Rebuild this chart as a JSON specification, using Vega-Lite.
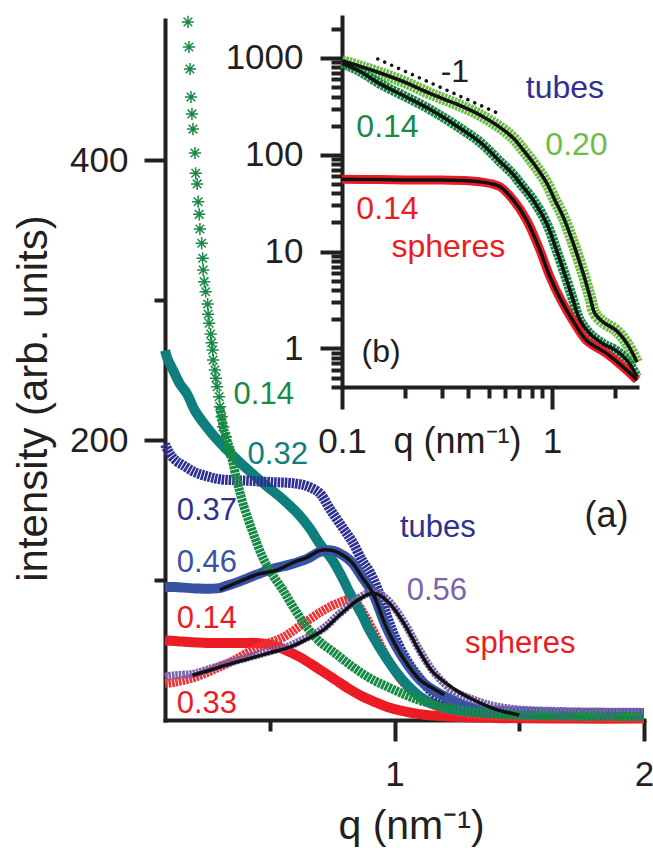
{
  "$schema": "https://vega.github.io/schema/vega-lite/v6.json",
  "description": "Scattering intensity versus q for tube and sphere dispersions: (a) linear axes, (b) log-log inset with fits.",
  "width": 479,
  "height": 700,
  "autosize": "none",
  "padding": {"left": 165, "top": 20, "right": 9, "bottom": 128},
  "background": "white",
  "config": {
    "view": {"stroke": null},
    "font": "Liberation Sans",
    "axis": {
      "grid": false,
      "domainWidth": 4,
      "domainCap": "square",
      "tickWidth": 4,
      "domainColor": "#231f20",
      "tickColor": "#231f20",
      "labelColor": "#231f20",
      "titleColor": "#231f20",
      "labelFont": "Liberation Sans",
      "titleFont": "Liberation Sans",
      "titleFontWeight": "normal",
      "labelOverlap": false,
      "labelFlush": false
    },
    "line": {"interpolate": "catmull-rom"},
    "text": {"font": "Liberation Sans"}
  },
  "datasets": {
    "tubes014Stars": [
      {"q": 0.172, "I": 498.6}, {"q": 0.176, "I": 480.7}, {"q": 0.180, "I": 465.0}, {"q": 0.184, "I": 445.0},
      {"q": 0.188, "I": 432.9}, {"q": 0.192, "I": 422.1}, {"q": 0.200, "I": 405.0}, {"q": 0.203, "I": 390.5},
      {"q": 0.209, "I": 382.9}, {"q": 0.213, "I": 370.2}, {"q": 0.217, "I": 361.2}, {"q": 0.220, "I": 350.7},
      {"q": 0.227, "I": 340.5}, {"q": 0.231, "I": 329.8}, {"q": 0.233, "I": 321.4}, {"q": 0.237, "I": 313.1},
      {"q": 0.243, "I": 305.9}, {"q": 0.251, "I": 297.1}, {"q": 0.253, "I": 289.8}, {"q": 0.257, "I": 283.4},
      {"q": 0.263, "I": 275.7}, {"q": 0.267, "I": 269.5}, {"q": 0.271, "I": 264.3}, {"q": 0.273, "I": 257.1},
      {"q": 0.280, "I": 250.0}, {"q": 0.284, "I": 244.1}, {"q": 0.289, "I": 238.1}, {"q": 0.297, "I": 230.9},
      {"q": 0.300, "I": 223.8}, {"q": 0.307, "I": 216.6}, {"q": 0.313, "I": 209.5}, {"q": 0.324, "I": 202.4},
      {"q": 0.333, "I": 195.2}, {"q": 0.343, "I": 190.5}
    ],
    "tubes014": [
      {"q": 0.300, "I": 223.8}, {"q": 0.313, "I": 209.5}, {"q": 0.324, "I": 202.4}, {"q": 0.343, "I": 190.5},
      {"q": 0.37, "I": 170}, {"q": 0.392, "I": 155}, {"q": 0.43, "I": 135}, {"q": 0.472, "I": 116},
      {"q": 0.51, "I": 104}, {"q": 0.552, "I": 93}, {"q": 0.60, "I": 79}, {"q": 0.65, "I": 66},
      {"q": 0.70, "I": 56}, {"q": 0.752, "I": 49}, {"q": 0.832, "I": 38}, {"q": 0.90, "I": 30},
      {"q": 0.968, "I": 24}, {"q": 1.03, "I": 19}, {"q": 1.10, "I": 14}, {"q": 1.17, "I": 10.5},
      {"q": 1.232, "I": 8}, {"q": 1.30, "I": 6.5}, {"q": 1.37, "I": 5}, {"q": 1.5, "I": 3.5},
      {"q": 1.7, "I": 2.8}, {"q": 2.0, "I": 2.5}
    ],
    "tubes032": [
      {"q": 0.08, "I": 264}, {"q": 0.09, "I": 258}, {"q": 0.112, "I": 250}, {"q": 0.14, "I": 240},
      {"q": 0.168, "I": 233}, {"q": 0.2, "I": 221}, {"q": 0.248, "I": 209}, {"q": 0.29, "I": 200},
      {"q": 0.328, "I": 193}, {"q": 0.38, "I": 184}, {"q": 0.43, "I": 176}, {"q": 0.488, "I": 167},
      {"q": 0.55, "I": 158}, {"q": 0.62, "I": 146}, {"q": 0.66, "I": 137}, {"q": 0.70, "I": 126},
      {"q": 0.752, "I": 114}, {"q": 0.79, "I": 102}, {"q": 0.82, "I": 91}, {"q": 0.87, "I": 75},
      {"q": 0.90, "I": 64}, {"q": 0.968, "I": 44}, {"q": 1.03, "I": 29}, {"q": 1.10, "I": 17},
      {"q": 1.15, "I": 12}, {"q": 1.21, "I": 8.5}, {"q": 1.3, "I": 6}, {"q": 1.45, "I": 4.5},
      {"q": 1.7, "I": 4}, {"q": 2.0, "I": 3.8}
    ],
    "tubes037": [
      {"q": 0.08, "I": 197}, {"q": 0.10, "I": 190}, {"q": 0.125, "I": 185}, {"q": 0.152, "I": 182},
      {"q": 0.2, "I": 177}, {"q": 0.25, "I": 174}, {"q": 0.3, "I": 172}, {"q": 0.4, "I": 171},
      {"q": 0.5, "I": 170}, {"q": 0.6, "I": 169}, {"q": 0.65, "I": 167}, {"q": 0.70, "I": 162},
      {"q": 0.74, "I": 151}, {"q": 0.79, "I": 138}, {"q": 0.832, "I": 127}, {"q": 0.87, "I": 114},
      {"q": 0.90, "I": 106}, {"q": 0.94, "I": 90}, {"q": 0.97, "I": 74}, {"q": 1.0, "I": 60},
      {"q": 1.048, "I": 43}, {"q": 1.10, "I": 30}, {"q": 1.15, "I": 20}, {"q": 1.2, "I": 14},
      {"q": 1.26, "I": 10}, {"q": 1.33, "I": 7}, {"q": 1.45, "I": 5.5}, {"q": 1.7, "I": 5},
      {"q": 2.0, "I": 5}
    ],
    "tubes046": [
      {"q": 0.08, "I": 95}, {"q": 0.12, "I": 95}, {"q": 0.2, "I": 94}, {"q": 0.288, "I": 94},
      {"q": 0.33, "I": 96}, {"q": 0.38, "I": 99}, {"q": 0.45, "I": 104}, {"q": 0.512, "I": 108},
      {"q": 0.58, "I": 111}, {"q": 0.648, "I": 115}, {"q": 0.70, "I": 120}, {"q": 0.752, "I": 121},
      {"q": 0.80, "I": 117}, {"q": 0.832, "I": 112}, {"q": 0.87, "I": 102}, {"q": 0.912, "I": 91},
      {"q": 0.968, "I": 66}, {"q": 1.032, "I": 45}, {"q": 1.10, "I": 29}, {"q": 1.15, "I": 22},
      {"q": 1.2, "I": 17}, {"q": 1.27, "I": 11}, {"q": 1.35, "I": 7.5}, {"q": 1.5, "I": 6},
      {"q": 1.7, "I": 5}, {"q": 2.0, "I": 5}
    ],
    "tubes046Fit": [
      {"q": 0.30, "I": 93}, {"q": 0.38, "I": 99}, {"q": 0.45, "I": 104}, {"q": 0.528, "I": 107},
      {"q": 0.60, "I": 113}, {"q": 0.648, "I": 116}, {"q": 0.70, "I": 121}, {"q": 0.752, "I": 121},
      {"q": 0.80, "I": 117}, {"q": 0.832, "I": 112}, {"q": 0.87, "I": 102}, {"q": 0.912, "I": 91},
      {"q": 0.968, "I": 66}, {"q": 1.032, "I": 45}, {"q": 1.10, "I": 29}, {"q": 1.15, "I": 23},
      {"q": 1.20, "I": 18}
    ],
    "spheres014": [
      {"q": 0.08, "I": 57}, {"q": 0.15, "I": 56}, {"q": 0.25, "I": 55}, {"q": 0.38, "I": 55},
      {"q": 0.45, "I": 55}, {"q": 0.512, "I": 53.5}, {"q": 0.55, "I": 51}, {"q": 0.62, "I": 45},
      {"q": 0.70, "I": 36}, {"q": 0.76, "I": 29}, {"q": 0.82, "I": 22}, {"q": 0.87, "I": 17},
      {"q": 0.92, "I": 13}, {"q": 0.968, "I": 9.5}, {"q": 1.03, "I": 6.5}, {"q": 1.1, "I": 4.2},
      {"q": 1.2, "I": 2.6}, {"q": 1.4, "I": 1.5}, {"q": 1.7, "I": 1}, {"q": 2.0, "I": 1}
    ],
    "spheres033": [
      {"q": 0.08, "I": 26}, {"q": 0.12, "I": 27}, {"q": 0.19, "I": 30}, {"q": 0.25, "I": 34},
      {"q": 0.30, "I": 38}, {"q": 0.36, "I": 43}, {"q": 0.42, "I": 49}, {"q": 0.48, "I": 54},
      {"q": 0.552, "I": 59}, {"q": 0.62, "I": 67}, {"q": 0.712, "I": 78}, {"q": 0.78, "I": 84},
      {"q": 0.82, "I": 86}, {"q": 0.85, "I": 83}, {"q": 0.88, "I": 75}, {"q": 0.92, "I": 62},
      {"q": 0.968, "I": 45}, {"q": 1.03, "I": 28}, {"q": 1.10, "I": 16}, {"q": 1.18, "I": 9},
      {"q": 1.28, "I": 5}, {"q": 1.4, "I": 3}, {"q": 1.7, "I": 2}, {"q": 2.0, "I": 1.5}
    ],
    "spheres056": [
      {"q": 0.08, "I": 31}, {"q": 0.12, "I": 32}, {"q": 0.192, "I": 33}, {"q": 0.25, "I": 36},
      {"q": 0.32, "I": 40}, {"q": 0.42, "I": 45}, {"q": 0.50, "I": 49}, {"q": 0.58, "I": 53},
      {"q": 0.64, "I": 58}, {"q": 0.712, "I": 65}, {"q": 0.78, "I": 76}, {"q": 0.848, "I": 86},
      {"q": 0.90, "I": 91}, {"q": 0.93, "I": 91}, {"q": 0.97, "I": 86}, {"q": 1.0, "I": 80},
      {"q": 1.048, "I": 67}, {"q": 1.10, "I": 50}, {"q": 1.15, "I": 36}, {"q": 1.20, "I": 26},
      {"q": 1.232, "I": 21}, {"q": 1.28, "I": 17}, {"q": 1.34, "I": 13}, {"q": 1.4, "I": 10},
      {"q": 1.5, "I": 7.5}, {"q": 1.7, "I": 6.3}, {"q": 2.0, "I": 5.8}
    ],
    "spheres056Fit": [
      {"q": 0.19, "I": 32}, {"q": 0.25, "I": 35}, {"q": 0.32, "I": 39}, {"q": 0.42, "I": 44},
      {"q": 0.50, "I": 48}, {"q": 0.58, "I": 52}, {"q": 0.64, "I": 57}, {"q": 0.712, "I": 64},
      {"q": 0.78, "I": 75}, {"q": 0.848, "I": 85}, {"q": 0.90, "I": 90}, {"q": 0.93, "I": 90},
      {"q": 0.97, "I": 85}, {"q": 1.0, "I": 79}, {"q": 1.048, "I": 66}, {"q": 1.10, "I": 49},
      {"q": 1.15, "I": 35}, {"q": 1.18, "I": 30}, {"q": 1.24, "I": 22}, {"q": 1.31, "I": 15},
      {"q": 1.40, "I": 8}, {"q": 1.5, "I": 3.6}
    ],
    "logTubes020": [
      {"q": 0.1, "I": 930}, {"q": 0.12, "I": 830}, {"q": 0.152, "I": 700}, {"q": 0.2, "I": 560},
      {"q": 0.262, "I": 430}, {"q": 0.35, "I": 335}, {"q": 0.454, "I": 258}, {"q": 0.55, "I": 200},
      {"q": 0.652, "I": 150}, {"q": 0.73, "I": 112}, {"q": 0.83, "I": 78}, {"q": 0.944, "I": 51},
      {"q": 1.04, "I": 33}, {"q": 1.13, "I": 23}, {"q": 1.264, "I": 12.1}, {"q": 1.41, "I": 5.9},
      {"q": 1.517, "I": 3.4}, {"q": 1.60, "I": 2.3}, {"q": 1.75, "I": 1.87}, {"q": 2.02, "I": 1.54},
      {"q": 2.28, "I": 1.12}, {"q": 2.54, "I": 0.72}
    ],
    "logTubes014": [
      {"q": 0.1, "I": 880}, {"q": 0.12, "I": 740}, {"q": 0.152, "I": 540}, {"q": 0.2, "I": 400},
      {"q": 0.262, "I": 295}, {"q": 0.35, "I": 200}, {"q": 0.454, "I": 135}, {"q": 0.566, "I": 85},
      {"q": 0.652, "I": 63}, {"q": 0.704, "I": 51}, {"q": 0.815, "I": 34}, {"q": 0.944, "I": 19.5},
      {"q": 1.052, "I": 10.3}, {"q": 1.175, "I": 5.1}, {"q": 1.264, "I": 3.1}, {"q": 1.36, "I": 1.95},
      {"q": 1.517, "I": 1.42}, {"q": 1.75, "I": 1.12}, {"q": 2.02, "I": 0.95}, {"q": 2.28, "I": 0.75},
      {"q": 2.54, "I": 0.51}
    ],
    "logSpheres014": [
      {"q": 0.1, "I": 56}, {"q": 0.15, "I": 55.5}, {"q": 0.2, "I": 55}, {"q": 0.3, "I": 55},
      {"q": 0.4, "I": 54}, {"q": 0.454, "I": 52.6}, {"q": 0.52, "I": 50}, {"q": 0.566, "I": 46.7},
      {"q": 0.655, "I": 34}, {"q": 0.758, "I": 21.1}, {"q": 0.877, "I": 10.3}, {"q": 0.978, "I": 5.5},
      {"q": 1.106, "I": 3.14}, {"q": 1.284, "I": 1.8}, {"q": 1.46, "I": 1.21}, {"q": 1.83, "I": 0.88},
      {"q": 2.28, "I": 0.59}, {"q": 2.54, "I": 0.47}
    ],
    "slopeGuide": [
      {"q": 0.148, "I": 977}, {"q": 0.578, "I": 257}
    ],
    "labelsA": [
      {"q": 0.476, "I": 226, "text": "0.14", "series": "tubes 0.14"},
      {"q": 0.532, "I": 183, "text": "0.32", "series": "tubes 0.32"},
      {"q": 0.248, "I": 143, "text": "0.37", "series": "tubes 0.37"},
      {"q": 0.248, "I": 106, "text": "0.46", "series": "tubes 0.46"},
      {"q": 0.248, "I": 65.5, "text": "0.14", "series": "spheres 0.14"},
      {"q": 0.248, "I": 4.8, "text": "0.33", "series": "spheres 0.33"},
      {"q": 1.174, "I": 131, "text": "tubes", "series": "tubes"},
      {"q": 1.17, "I": 85.7, "text": "0.56", "series": "spheres 0.56"},
      {"q": 1.504, "I": 48, "text": "spheres", "series": "spheres"}
    ],
    "labelsB": [
      {"q": 0.1647, "I": 151, "text": "0.14", "series": "tubes 0.14"},
      {"q": 1.308, "I": 99.3, "text": "0.20", "series": "tubes 0.20"},
      {"q": 1.153, "I": 383, "text": "tubes", "series": "tubes"},
      {"q": 0.1647, "I": 21.6, "text": "0.14", "series": "spheres 0.14"},
      {"q": 0.321, "I": 8.81, "text": "spheres", "series": "spheres"}
    ]
  },
  "layer": [
    {
      "encoding": {
        "x": {
          "field": "q", "type": "quantitative",
          "scale": {"domain": [0.08, 2], "nice": false, "zero": false},
          "axis": {
            "orient": "bottom",
            "values": [0.5, 1, 1.5, 2],
            "labelExpr": "datum.value === 1 ? '1' : datum.value === 2 ? '2' : ''",
            "tickSize": {"condition": {"test": "datum.value === 1 || datum.value === 2", "value": 21}, "value": 11},
            "labelPadding": 44,
            "labelBaseline": "alphabetic",
            "labelFontSize": 35,
            "title": "q (nm⁻¹)",
            "titleFontSize": 41,
            "titleX": 246,
            "titleY": 118,
            "titleAlign": "center",
            "titleBaseline": "alphabetic"
          }
        },
        "y": {
          "field": "I", "type": "quantitative",
          "scale": {"domain": [0, 500], "nice": false},
          "axis": {
            "orient": "left",
            "values": [100, 200, 300, 400],
            "labelExpr": "datum.value === 200 || datum.value === 400 ? datum.label : ''",
            "tickSize": {"condition": {"test": "datum.value === 200 || datum.value === 400", "value": 21}, "value": 11},
            "labelPadding": 16,
            "labelFontSize": 35,
            "title": "intensity (arb. units)",
            "titleFontSize": 42,
            "titleAngle": 270,
            "titleX": -132,
            "titleY": 378,
            "titleAlign": "center",
            "titleBaseline": "middle"
          }
        }
      },
      "layer": [
        {"data": {"name": "spheres014"}, "mark": {"type": "line", "color": "#ec1c24", "strokeWidth": 10}},
        {"data": {"name": "spheres033"}, "mark": {"type": "line", "color": "#ee3236", "strokeWidth": 9, "strokeDash": [2.6, 0.9]}},
        {"data": {"name": "tubes032"}, "mark": {"type": "line", "color": "#0f7f7e", "strokeWidth": 10}},
        {"data": {"name": "tubes037"}, "mark": {"type": "line", "color": "#2e3192", "strokeWidth": 10, "strokeDash": [2.6, 0.9]}},
        {"data": {"name": "tubes046"}, "mark": {"type": "line", "color": "#3953a4", "strokeWidth": 10}},
        {"data": {"name": "spheres056"}, "mark": {"type": "line", "color": "#7b63ad", "strokeWidth": 8, "strokeDash": [2.6, 0.9]}},
        {"data": {"name": "tubes014"}, "mark": {"type": "line", "color": "#178a45", "strokeWidth": 9, "strokeDash": [3, 0.8]}},
        {"data": {"name": "tubes014Stars"}, "mark": {"type": "point", "shape": "M-1,0L1,0M0,-1L0,1M-0.7,-0.7L0.7,0.7M-0.7,0.7L0.7,-0.7", "filled": false, "size": 150, "strokeWidth": 1.5, "color": "#178a45", "opacity": 1}},
        {"data": {"name": "tubes046Fit"}, "mark": {"type": "line", "color": "#111111", "strokeWidth": 3.5}},
        {"data": {"name": "spheres056Fit"}, "mark": {"type": "line", "color": "#111111", "strokeWidth": 3.5}},
        {
          "data": {"name": "labelsA"},
          "mark": {"type": "text", "align": "center", "baseline": "alphabetic", "fontSize": 31},
          "encoding": {
            "text": {"field": "text"},
            "color": {
              "field": "series", "type": "nominal", "legend": null,
              "scale": {
                "domain": ["tubes 0.14", "tubes 0.32", "tubes 0.37", "tubes 0.46", "spheres 0.14", "spheres 0.33", "spheres 0.56", "tubes 0.20", "tubes", "spheres"],
                "range": ["#178a45", "#0f7f7e", "#2e3192", "#3953a4", "#ec1c24", "#ec1c24", "#7b63ad", "#6cbd45", "#2e3192", "#ec1c24"]
              }
            }
          }
        },
        {
          "data": {"values": [{"q": 1.85, "I": 138, "text": "(a)"}]},
          "mark": {"type": "text", "align": "center", "baseline": "alphabetic", "fontSize": 36, "color": "#231f20"},
          "encoding": {"text": {"field": "text"}}
        }
      ]
    },
    {
      "encoding": {
        "x": {
          "field": "q", "type": "quantitative",
          "scale": {"type": "log", "domain": [0.1, 2.54], "range": [177, 472], "nice": false},
          "axis": {
            "orient": "bottom",
            "offset": -333,
            "values": [0.1, 0.2, 0.3, 0.4, 0.5, 0.6, 0.7, 0.8, 0.9, 1, 2],
            "labelExpr": "datum.value === 0.1 ? '0.1' : datum.value === 1 ? '1' : ''",
            "tickSize": {"condition": {"test": "datum.value === 0.1 || datum.value === 1", "value": 22}, "value": 11},
            "labelPadding": 43,
            "labelBaseline": "alphabetic",
            "labelFontSize": 35,
            "title": "q (nm⁻¹)",
            "titleFontSize": 36,
            "titleX": 292,
            "titleY": 65,
            "titleAlign": "center",
            "titleBaseline": "alphabetic"
          }
        },
        "y": {
          "field": "I", "type": "quantitative",
          "scale": {"type": "log", "domain": [0.4, 2650], "range": [367, -3], "nice": false},
          "axis": {
            "orient": "left",
            "offset": -177,
            "values": [0.4, 0.5, 0.6, 0.7, 0.8, 0.9, 1, 2, 3, 4, 5, 6, 7, 8, 9, 10, 20, 30, 40, 50, 60, 70, 80, 90, 100, 200, 300, 400, 500, 600, 700, 800, 900, 1000, 2000],
            "labelExpr": "datum.value === 1 ? '1' : datum.value === 10 ? '10' : datum.value === 100 ? '100' : datum.value === 1000 ? '1000' : ''",
            "tickSize": {"condition": {"test": "datum.value === 1 || datum.value === 10 || datum.value === 100 || datum.value === 1000", "value": 22}, "value": 11},
            "labelPadding": 17,
            "labelFontSize": 35,
            "title": null
          }
        }
      },
      "layer": [
        {"data": {"name": "logTubes020"}, "mark": {"type": "line", "color": "#6cbd45", "strokeWidth": 12, "strokeDash": [2.6, 0.9]}},
        {"data": {"name": "logTubes014"}, "mark": {"type": "line", "color": "#178a45", "strokeWidth": 10, "strokeDash": [3, 0.8]}},
        {"data": {"name": "logSpheres014"}, "mark": {"type": "line", "color": "#ec1c24", "strokeWidth": 9}},
        {"data": {"name": "logTubes020"}, "mark": {"type": "line", "color": "#111111", "strokeWidth": 3.5}},
        {"data": {"name": "logTubes014"}, "mark": {"type": "line", "color": "#111111", "strokeWidth": 3.5}},
        {"data": {"name": "logSpheres014"}, "mark": {"type": "line", "color": "#111111", "strokeWidth": 3.5}},
        {"data": {"name": "slopeGuide"}, "mark": {"type": "line", "interpolate": "linear", "color": "#111111", "strokeWidth": 3.5, "strokeCap": "round", "strokeDash": [0.1, 7.5]}},
        {
          "data": {"name": "labelsB"},
          "mark": {"type": "text", "align": "center", "baseline": "alphabetic", "fontSize": 32},
          "encoding": {
            "text": {"field": "text"},
            "color": {"field": "series", "type": "nominal", "legend": null}
          }
        },
        {
          "data": {"values": [{"q": 0.345, "I": 565, "text": "-1"}, {"q": 0.1535, "I": 0.723, "text": "(b)"}]},
          "mark": {"type": "text", "align": "center", "baseline": "alphabetic", "fontSize": 32, "color": "#231f20"},
          "encoding": {"text": {"field": "text"}}
        }
      ]
    }
  ],
  "resolve": {
    "scale": {"x": "independent", "y": "independent"},
    "axis": {"x": "independent", "y": "independent"}
  }
}
